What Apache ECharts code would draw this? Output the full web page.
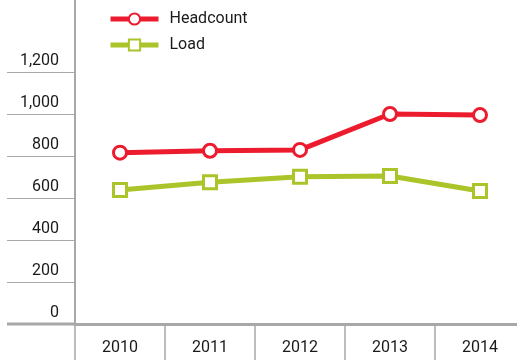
<!DOCTYPE html>
<html>
<head>
<meta charset="utf-8">
<script src="https://cdn.jsdelivr.net/npm/echarts@6/dist/echarts.min.js"></script>
<style>html,body{margin:0;padding:0;background:#fff;}#c{width:517px;height:360px;}</style>
</head>
<body>
<div id="c"></div>
<script>
var years = ['2010', '2011', '2012', '2013', '2014'];
var headcount = [816, 825, 829, 1000, 995];
var load = [638, 675, 701, 705, 633];
var yTicks = [0, 200, 400, 600, 800, 1000, 1200];

var RED = '#EC1C2E';
var GREEN = '#AAC42A';
var GRAY = '#A8A8A8';
var FONT = 'Roboto';

var chart = echarts.init(document.getElementById('c'), null, {renderer: 'canvas'});
var yMax = 1200 * 324 / 252;
chart.setOption({
  animation: false,
  backgroundColor: '#fff',
  legend: {
    orient: 'vertical',
    left: 103,
    top: 6,
    itemWidth: 48,
    itemHeight: 14,
    itemGap: 10,
    lineStyle: {width: 5},
    textStyle: {fontFamily: FONT, fontSize: 16, color: '#1a1a1a', padding: [0, 0, 0, 6]},
    data: ['Headcount', 'Load']
  },
  grid: {left: 75, top: 0, width: 450, bottom: 36, containLabel: false, outerBoundsMode: 'none'},
  xAxis: {
    type: 'category',
    data: years,
    boundaryGap: true,
    axisLine: {show: true, lineStyle: {color: GRAY, width: 3}},
    axisTick: {show: true, length: 36, interval: 0, lineStyle: {color: GRAY, width: 1.5}},
    axisLabel: {margin: 16, color: '#1a1a1a', fontFamily: FONT, fontSize: 16, interval: 0},
    splitLine: {show: false}
  },
  yAxis: {
    type: 'value',
    min: 0,
    max: yMax,
    axisLine: {show: true, lineStyle: {color: GRAY, width: 2}},
    axisTick: {show: true, customValues: yTicks, length: 68, lineStyle: {color: GRAY, width: 1}},
    axisLabel: {
      customValues: yTicks,
      margin: 16,
      color: '#1a1a1a',
      fontFamily: FONT,
      fontSize: 16,
      verticalAlign: 'bottom',
      padding: [0, 0, 3, 0],
      formatter: function (v) { return v.toLocaleString('en-US'); }
    },
    splitLine: {show: false}
  },
  graphic: [{
    type: 'line',
    shape: {x1: 7, y1: 324, x2: 75, y2: 324},
    style: {stroke: GRAY, lineWidth: 3}
  }],
  series: [
    {
      name: 'Headcount',
      type: 'line',
      data: headcount,
      symbol: 'circle',
      symbolSize: 13,
      lineStyle: {color: RED, width: 5},
      itemStyle: {color: '#fff', borderColor: RED, borderWidth: 3}
    },
    {
      name: 'Load',
      type: 'line',
      data: load,
      symbol: 'rect',
      symbolSize: 13,
      lineStyle: {color: GREEN, width: 5},
      itemStyle: {color: '#fff', borderColor: GREEN, borderWidth: 3}
    }
  ]
});
</script>
</body>
</html>
